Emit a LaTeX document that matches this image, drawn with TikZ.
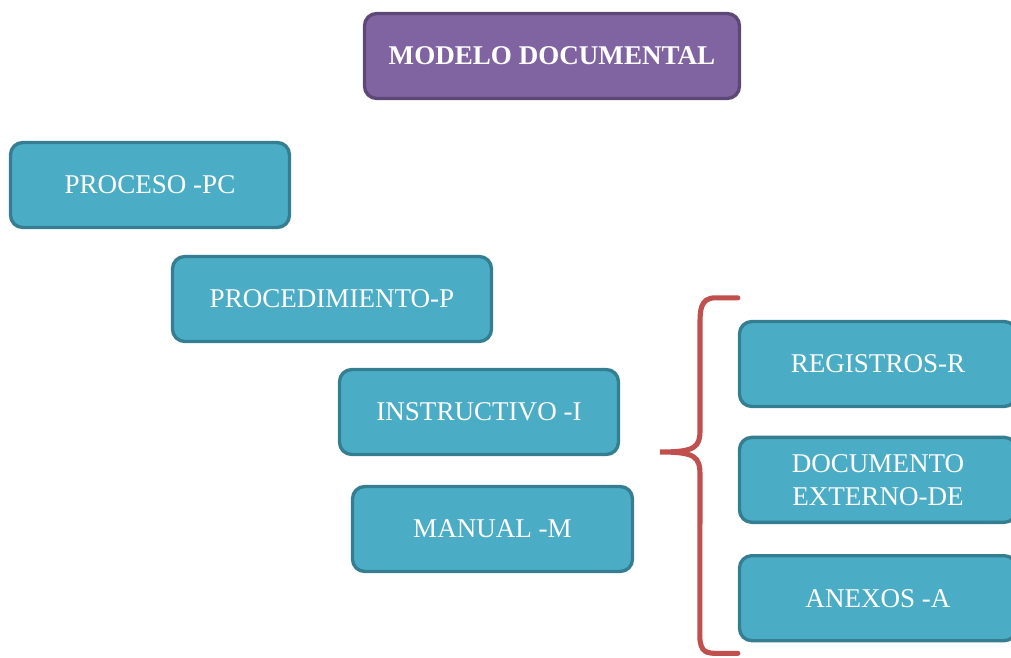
\documentclass[tikz,border=0pt]{standalone}
\usepackage{fontspec}
\setmainfont{Liberation Serif}
\usetikzlibrary{positioning, calc}

\definecolor{azulcaja}{HTML}{4BACC6}
\definecolor{azulborde}{HTML}{357D91}
\definecolor{moradocaja}{HTML}{8064A2}
\definecolor{moradoborde}{HTML}{5C4776}
\definecolor{rojollave}{HTML}{C0504D}

\begin{document}
\begin{tikzpicture}[
    caja/.style={draw=azulborde, fill=azulcaja, line width=1.9pt, rounded corners=7pt,
      text=white, align=center, font=\fontsize{15.4}{18.6}\selectfont,
      minimum height=1.7cm, inner sep=0pt},
    titulo/.style={caja, draw=moradoborde, fill=moradocaja, font=\fontsize{15.4}{18.6}\selectfont\bfseries}
  ]
    \useasboundingbox (0,0) rectangle (20.22,-13.16);

    % Titulo
    \node [titulo, minimum width=7.5cm] (modelo) at (11.04,-1.12) {MODELO DOCUMENTAL};

    % Escalera de documentos
    \node [caja, minimum width=5.58cm] (proceso) at (3.0,-3.7) {PROCESO -PC};
    \node [caja, minimum width=6.38cm] (proced) at (6.64,-5.98) {PROCEDIMIENTO-P};
    \node [caja, minimum width=5.58cm] (instruc) at (9.58,-8.24) {INSTRUCTIVO -I};
    \node [caja, minimum width=5.6cm] (manual) at (9.85,-10.58) {MANUAL -M};

    % Columna derecha
    \node [caja, minimum width=5.54cm] (registros) at (17.56,-7.28) {REGISTROS-R};
    \node [caja, minimum width=5.54cm, below=0.55cm of registros] (docext) {DOCUMENTO\\EXTERNO-DE};
    \node [caja, minimum width=5.54cm, below=0.6cm of docext] (anexos) {ANEXOS -A};

    % Llave
    \coordinate (llave) at (13.2,-9.04);
    \coordinate (arriba) at ($(registros.north west)+(0,0.44)$);
    \coordinate (abajo) at ($(anexos.south west)+(0,-0.22)$);
    \draw [rojollave, line width=2.9pt, line cap=round]
      (arriba) -- ++(-0.45,0) .. controls +(-0.3,0) and (14.0,-6.2) .. (14.0,-6.5)
      -- (14.0,-8.6) .. controls (14.0,-8.95) and (13.9,-9.04) .. (llave)
      .. controls (13.9,-9.04) and (14.0,-9.13) .. (14.0,-9.5)
      -- ($(abajo)+(-0.76,0.35)$) .. controls ($(abajo)+(-0.76,0)$) and ($(abajo)+(-0.6,0)$) .. ($(abajo)+(-0.4,0)$)
      -- (abajo);
\end{tikzpicture}
\end{document}
